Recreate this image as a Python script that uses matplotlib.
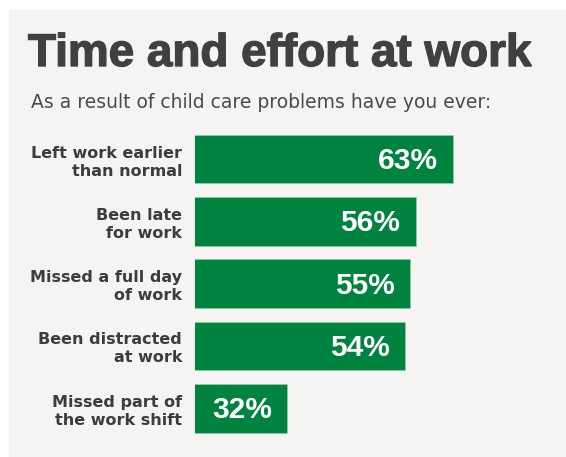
import matplotlib
matplotlib.use("Agg")
import matplotlib.pyplot as plt
import matplotlib.patheffects as pe
from matplotlib.patches import Rectangle

# Survey results
categories = [
    "Left work earlier\nthan normal",
    "Been late\nfor work",
    "Missed a full day\nof work",
    "Been distracted\nat work",
    "Missed part of\nthe work shift",
]
values = [63, 56, 55, 54, 32]
value_labels = [f"{v}%" for v in values]

title = "Time and effort at work"
subtitle = "As a result of child care problems have you ever:"

W, H = 566, 457
fig = plt.figure(figsize=(W / 100, H / 100), dpi=100, facecolor="white")

# light panel behind the graphic
fig.patches.append(Rectangle((9 / W, 0), 1 - 9 / W, 1 - 9.5 / H,
                             transform=fig.transFigure, facecolor="#f6f4f2",
                             edgecolor="none", zorder=-5))

green = "#00833f"
text_dark = "#3c3c3c"

ax_left, ax_right = 194.7, 470.0
ax_top, ax_bottom = 127.85, 439.45
ax = fig.add_axes([ax_left / W, 1 - ax_bottom / H,
                   (ax_right - ax_left) / W, (ax_bottom - ax_top) / H])
ax.set_facecolor("none")
ax.set_zorder(2)

y = list(range(len(values)))
ax.barh(y, values, height=0.78, color=green, edgecolor="#8fcaa6",
        linewidth=0.6)
ax.set_xlim(14.7, 14.7 + (ax_right - ax_left) / 5.35)
ax.set_ylim(len(values) - 0.5, -0.5)

ax.set_yticks(y, categories)
ax.tick_params(axis="y", length=0, pad=9)
for lab in ax.get_yticklabels():
    lab.set_fontfamily("DejaVu Sans")
    lab.set_fontweight("bold")
    lab.set_fontsize(11.5)
    lab.set_color(text_dark)
    lab.set_linespacing(1.25)
ax.set_xticks([])
for s in ax.spines.values():
    s.set_visible(False)

for yi, v, lbl in zip(y, values, value_labels):
    ax.annotate(lbl, xy=(v, yi), xytext=(-11, -1.5), textcoords="offset points",
                ha="right", va="center", color="white", fontsize=21.5,
                fontweight="bold", family="Liberation Sans")

fig.text(28 / W, 1 - 66 / H, title, fontsize=33, fontweight="bold",
         family="Liberation Sans", color="#404040", va="baseline", ha="left",
         zorder=3,
         path_effects=[pe.withStroke(linewidth=1.0, foreground="#404040")])
fig.text(31 / W, 1 - 108.3 / H, subtitle, fontsize=13.5,
         family="DejaVu Sans", color="#4a4a4a", va="baseline", ha="left",
         zorder=3)

fig.savefig("out.png", dpi=100, facecolor="white")
